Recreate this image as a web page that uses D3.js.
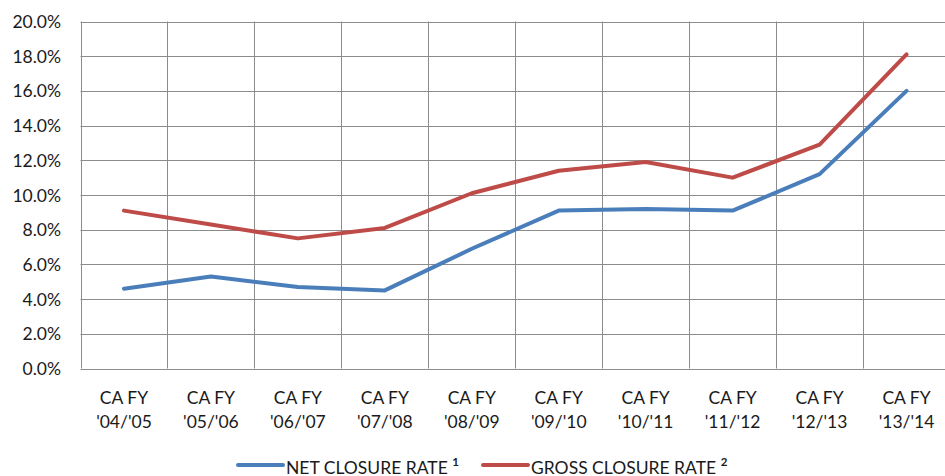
<!DOCTYPE html>
<html>
<head>
<meta charset="utf-8">
<script src="https://cdn.jsdelivr.net/npm/d3@7"></script>
<style>
  html, body { margin: 0; padding: 0; background: #fff; }
  svg { display: block; font-family: Lato, "Open Sans", sans-serif; }
</style>
</head>
<body>
<svg id="chart" width="945" height="476"></svg>
<script>
// chart data
const categories = ["CA FY|'04/'05", "CA FY|'05/'06", "CA FY|'06/'07", "CA FY|'07/'08", "CA FY|'08/'09",
                    "CA FY|'09/'10", "CA FY|'10/'11", "CA FY|'11/'12", "CA FY|'12/'13", "CA FY|'13/'14"];
const netRate   = [4.6, 5.3, 4.7, 4.5, 6.9, 9.1, 9.2, 9.1, 11.2, 16.0];
const grossRate = [9.1, 8.3, 7.5, 8.1, 10.1, 11.4, 11.9, 11.0, 12.9, 18.1];
const yTicks = [0, 2, 4, 6, 8, 10, 12, 14, 16, 18, 20];

const series = [
  { name: "NET CLOSURE RATE", note: "1", values: netRate, color: "#4A7EBB" },
  { name: "GROSS CLOSURE RATE", note: "2", values: grossRate, color: "#BE4B48" }
];

const svg = d3.select("#chart");
const plotLeft = 80.5, plotRight = 950, plotTop = 21.5, plotBottom = 368.5;
const fontSize = 17.5;

const x = d3.scaleBand().domain(categories).range([plotLeft, plotRight]);
const y = d3.scaleLinear().domain([0, 20]).range([plotBottom, plotTop]);

const gridColor = "#8c8c8c";

// horizontal grid
svg.append("g")
  .selectAll("line")
  .data(yTicks)
  .join("line")
  .attr("x1", plotLeft).attr("x2", plotRight)
  .attr("y1", d => Math.round(y(d)) + 0.5).attr("y2", d => Math.round(y(d)) + 0.5)
  .attr("stroke", gridColor).attr("stroke-width", 1);

// vertical grid (category boundaries)
svg.append("g")
  .selectAll("line")
  .data(categories)
  .join("line")
  .attr("x1", d => Math.round(x(d)) + 0.5).attr("x2", d => Math.round(x(d)) + 0.5)
  .attr("y1", plotTop).attr("y2", plotBottom)
  .attr("stroke", gridColor).attr("stroke-width", 1);

// y axis labels
svg.append("g")
  .selectAll("text")
  .data(yTicks)
  .join("text")
  .attr("x", 61)
  .attr("y", d => y(d) + 6.5)
  .attr("text-anchor", "end")
  .attr("font-size", fontSize)
  .attr("fill", "#1a1a1a")
  .text(d => d.toFixed(1) + "%");

// x axis labels, two lines
const xl = svg.append("g")
  .selectAll("text")
  .data(categories)
  .join("text")
  .attr("text-anchor", "middle")
  .attr("font-size", fontSize)
  .attr("fill", "#1a1a1a");
xl.append("tspan")
  .attr("x", d => x(d) + x.bandwidth() / 2)
  .attr("y", 403.5)
  .text(d => d.split("|")[0]);
xl.append("tspan")
  .attr("x", d => x(d) + x.bandwidth() / 2)
  .attr("y", 427.5)
  .text(d => d.split("|")[1]);

// lines
const line = d3.line()
  .x((d, i) => x(categories[i]) + x.bandwidth() / 2)
  .y(d => y(d));

svg.append("g")
  .selectAll("path")
  .data(series)
  .join("path")
  .attr("d", d => line(d.values))
  .attr("fill", "none")
  .attr("stroke", d => d.color)
  .attr("stroke-width", 4)
  .attr("stroke-linejoin", "round")
  .attr("stroke-linecap", "round");

// legend
const legendPos = [238, 483];
const lg = svg.append("g")
  .selectAll("g")
  .data(series)
  .join("g")
  .attr("transform", (d, i) => `translate(${legendPos[i]},465)`);
lg.append("line")
  .attr("x1", 0).attr("x2", 45)
  .attr("stroke", d => d.color)
  .attr("stroke-width", 4)
  .attr("stroke-linecap", "round");
const lt = lg.append("text")
  .attr("x", 48)
  .attr("y", 8.5)
  .attr("font-size", fontSize)
  .attr("fill", "#1a1a1a");
lt.append("tspan").text(d => d.name + " ");
lt.append("tspan")
  .attr("dy", -8)
  .attr("font-size", 11.5)
  .attr("font-weight", "bold")
  .text(d => d.note);
</script>
</body>
</html>
